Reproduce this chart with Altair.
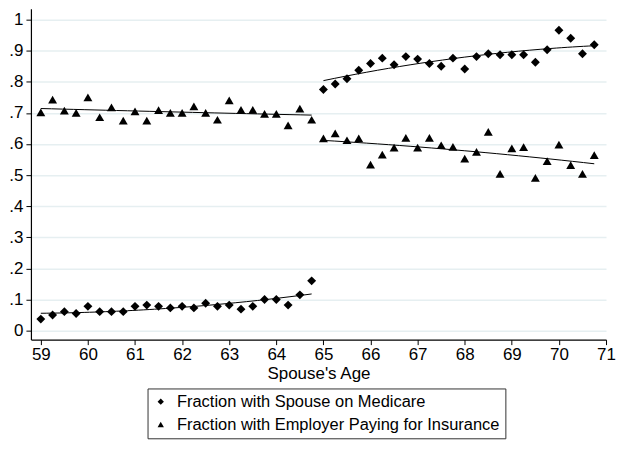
import altair as alt
import pandas as pd

ages = [59 + 0.25 * i for i in range(48)]

medicare = [0.037, 0.050, 0.061, 0.055, 0.078, 0.061, 0.061, 0.061, 0.078, 0.082, 0.078, 0.073,
            0.078, 0.073, 0.088, 0.078, 0.082, 0.069, 0.078, 0.100, 0.100, 0.082, 0.115, 0.160,
            0.775, 0.793, 0.810, 0.837, 0.859, 0.876, 0.855, 0.881, 0.873, 0.859, 0.850, 0.876,
            0.841, 0.881, 0.890, 0.887, 0.887, 0.887, 0.863, 0.903, 0.966, 0.940, 0.890, 0.919]

employer = [0.702, 0.743, 0.707, 0.700, 0.750, 0.686, 0.718, 0.675, 0.705, 0.675, 0.709, 0.700,
            0.700, 0.721, 0.700, 0.678, 0.740, 0.710, 0.710, 0.697, 0.697, 0.660, 0.714, 0.678,
            0.618, 0.634, 0.612, 0.618, 0.534, 0.566, 0.588, 0.620, 0.588, 0.620, 0.596, 0.591,
            0.553, 0.575, 0.639, 0.504, 0.586, 0.590, 0.491, 0.545, 0.598, 0.532, 0.504, 0.564]

series_names = ["Fraction with Spouse on Medicare", "Fraction with Employer Paying for Insurance"]
x_ticks = list(range(59, 72))
y_ticks = [0, 0.1, 0.2, 0.3, 0.4, 0.5, 0.6, 0.7, 0.8, 0.9, 1.0]

rows = []
for name, vals in zip(series_names, [medicare, employer]):
    for a, v in zip(ages, vals):
        rows.append({"age": a, "value": v, "series": name,
                     "segment": name + (" pre" if a < 65 else " post")})
df = pd.DataFrame(rows)

x_scale = alt.Scale(domain=[58.79, 71.0], nice=False, zero=False)
y_scale = alt.Scale(domain=[-0.029, 1.035], nice=False, zero=False)

x_enc = alt.X("age:Q", scale=x_scale,
              axis=alt.Axis(values=x_ticks, format="d", title="Spouse's Age", grid=False,
                            labelFontSize=17, titleFontSize=17, titleFontWeight="normal",
                            titlePadding=3, labelPadding=2, tickSize=5, labelFlush=False,
                            labelOverlap=False))
y_enc = alt.Y("value:Q", scale=y_scale,
              axis=alt.Axis(values=y_ticks, title=None, grid=True, gridColor="#e6eff1",
                            gridWidth=1.5, labelFontSize=17, tickSize=5, labelPadding=3,
                            minExtent=22, maxExtent=22, labelOverlap=False,
                            labelExpr="datum.value == 0 ? '0' : datum.value >= 0.99 ? '1' : '.' + round(datum.value * 10)"))

base = alt.Chart(df)

points = base.mark_point(filled=True, opacity=1, color="black", size=80).encode(
    x=x_enc,
    y=y_enc,
    shape=alt.Shape("series:N",
                    scale=alt.Scale(domain=series_names, range=["diamond", "triangle-up"]),
                    legend=alt.Legend(title=None, orient="none", legendX=117, legendY=381,
                                      direction="vertical", strokeColor="#333333",
                                      padding=5, labelFontSize=16.5, symbolSize=40,
                                      symbolFillColor="black", symbolStrokeColor="black",
                                      rowPadding=6, labelOffset=8, labelLimit=500,
                                      labelColor="black")),
)

fit = base.transform_regression("age", "value", groupby=["segment"], method="poly", order=2).mark_line(
    color="black", strokeWidth=1
).encode(
    x=x_enc,
    y=y_enc,
    detail="segment:N",
)

chart = alt.layer(points, fit).properties(
    width=577, height=332, padding=0
).configure_view(stroke=None).configure_axis(
    domainColor="black", tickColor="black", labelColor="black", titleColor="black",
    labelFont="Liberation Sans", titleFont="Liberation Sans", domainWidth=1.2
).configure_legend(labelFont="Liberation Sans")

chart.save("out.html", embed_options={"renderer": "svg", "actions": False})
